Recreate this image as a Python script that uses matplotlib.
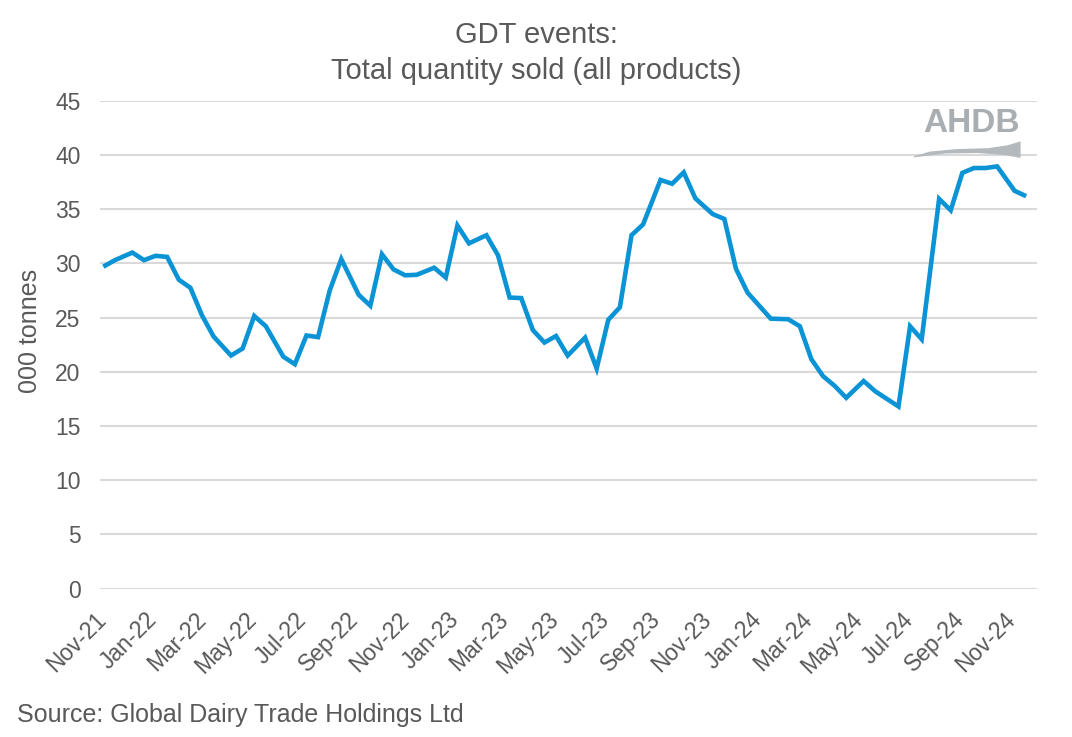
import numpy as np
import matplotlib
matplotlib.use("Agg")
import matplotlib.pyplot as plt
import matplotlib.dates as mdates
import matplotlib.transforms as mtransforms

plt.rcParams['font.family'] = ['Liberation Sans', 'DejaVu Sans']

# GDT trading event dates
event_dates = [
    "2021-11-02", "2021-11-16", "2021-12-07", "2021-12-21",
    "2022-01-04", "2022-01-18", "2022-02-01", "2022-02-15", "2022-03-01", "2022-03-15",
    "2022-04-05", "2022-04-19", "2022-05-03", "2022-05-17", "2022-06-07", "2022-06-21",
    "2022-07-05", "2022-07-19", "2022-08-02", "2022-08-16", "2022-09-06", "2022-09-20",
    "2022-10-04", "2022-10-18", "2022-11-01", "2022-11-15", "2022-12-06", "2022-12-20",
    "2023-01-03", "2023-01-17", "2023-02-07", "2023-02-21", "2023-03-07", "2023-03-21",
    "2023-04-04", "2023-04-18", "2023-05-02", "2023-05-16", "2023-06-06", "2023-06-20",
    "2023-07-04", "2023-07-18", "2023-08-01", "2023-08-15", "2023-09-05", "2023-09-19",
    "2023-10-03", "2023-10-17", "2023-11-07", "2023-11-21", "2023-12-05", "2023-12-19",
    "2024-01-02", "2024-01-16", "2024-02-06", "2024-02-20", "2024-03-05", "2024-03-19",
    "2024-04-02", "2024-04-16", "2024-05-07", "2024-05-21", "2024-06-04", "2024-06-18",
    "2024-07-02", "2024-07-16", "2024-08-06", "2024-08-20", "2024-09-03", "2024-09-17",
    "2024-10-01", "2024-10-15", "2024-11-05", "2024-11-19",
]

# Total quantity sold, '000 tonnes
quantity_sold = [
    29.7, 30.3, 31.0, 30.3, 30.7, 30.6, 28.5, 27.75, 25.2, 23.25,
    21.5, 22.15, 25.15, 24.2, 21.4, 20.7, 23.35, 23.2, 27.5, 30.4,
    27.1, 26.1, 30.85, 29.45, 28.9, 28.95, 29.6, 28.7, 33.5, 31.85,
    32.6, 30.75, 26.85, 26.8, 23.85, 22.7, 23.3, 21.5, 23.15, 20.3,
    24.8, 25.95, 32.6, 33.6, 37.7, 37.35, 38.4, 36.0, 34.55, 34.1,
    29.5, 27.3, 26.1, 24.9, 24.85, 24.2, 21.15, 19.6, 18.7, 17.6,
    19.15, 18.2, 17.5, 16.8, 24.2, 23.0, 35.95, 34.9, 38.35, 38.8,
    38.8, 38.95, 36.7, 36.2,
]

y_ticks = [0, 5, 10, 15, 20, 25, 30, 35, 40, 45]
title_line1 = "GDT events:"
title_line2 = "Total quantity sold (all products)"
y_label = "000 tonnes"
source_text = "Source: Global Dairy Trade Holdings Ltd"
logo_text = "AHDB"

TEXT = "#595959"
LINE = "#0A93D5"
GRID = "#D9D9D9"
LOGO = "#A9AEB2"

dates = np.array(event_dates, dtype="datetime64[D]")

fig = plt.figure(figsize=(10.72, 7.37), dpi=100)
ax = fig.add_axes([0.0933, 0.2014, 0.8740, 0.6618])

ax.plot(dates, quantity_sold, color=LINE, lw=3.3, solid_joinstyle="miter",
        solid_capstyle="butt", zorder=3)

ax.set_ylim(0, 45)
ax.set_yticks(y_ticks)
ax.set_xlim(np.datetime64("2021-10-29"), np.datetime64("2024-12-02"))
ax.xaxis.set_major_locator(mdates.MonthLocator(bymonth=[1, 3, 5, 7, 9, 11]))
ax.xaxis.set_major_formatter(mdates.DateFormatter("%b-%y"))

ax.grid(axis="y", color=GRID, lw=1.5)
ax.grid(axis="x", visible=False)
ax.set_axisbelow(True)
for s in ax.spines.values():
    s.set_visible(False)
ax.tick_params(axis="both", length=0, colors=TEXT, labelsize=16.5)
ax.tick_params(axis="y", pad=14)
ax.tick_params(axis="x", pad=14)
shift = mtransforms.ScaledTranslation(-8 / 100, 0, fig.dpi_scale_trans)
for lab in ax.get_xticklabels():
    lab.set_rotation(45)
    lab.set_ha("right")
    lab.set_rotation_mode("anchor")
    lab.set_transform(lab.get_transform() + shift)

fig.text(30 / 1072, 1 - 331 / 737, y_label, rotation=90, ha="center", va="center",
         color=TEXT, fontsize=18)

fig.text(0.5, 1 - 43 / 737, title_line1, ha="center", va="baseline", color=TEXT,
         fontsize=21)
fig.text(0.5, 1 - 79 / 737, title_line2, ha="center", va="baseline", color=TEXT,
         fontsize=21)
fig.text(0.016, 1 - 722 / 737, source_text, ha="left", va="baseline", color=TEXT,
         fontsize=18)

# AHDB logo
ax.text(0.982, 0.953, logo_text, transform=ax.transAxes, ha="right", va="center",
        color=LOGO, fontsize=24, fontweight="bold", zorder=2)
t = np.linspace(0, 1, 100)
xs = 0.868 + 0.114 * t
top = np.interp(t, [0, 0.15, 0.4, 0.7, 0.88, 1.0],
                [0.887, 0.897, 0.902, 0.904, 0.910, 0.918])
bot = np.interp(t, [0, 0.3, 0.6, 0.85, 1.0],
                [0.885, 0.893, 0.894, 0.890, 0.884])
ax.fill_between(xs, bot, top, transform=ax.transAxes, color="#B3B9BD",
                lw=0, zorder=2)

fig.savefig("out.png", dpi=100, facecolor="white")
